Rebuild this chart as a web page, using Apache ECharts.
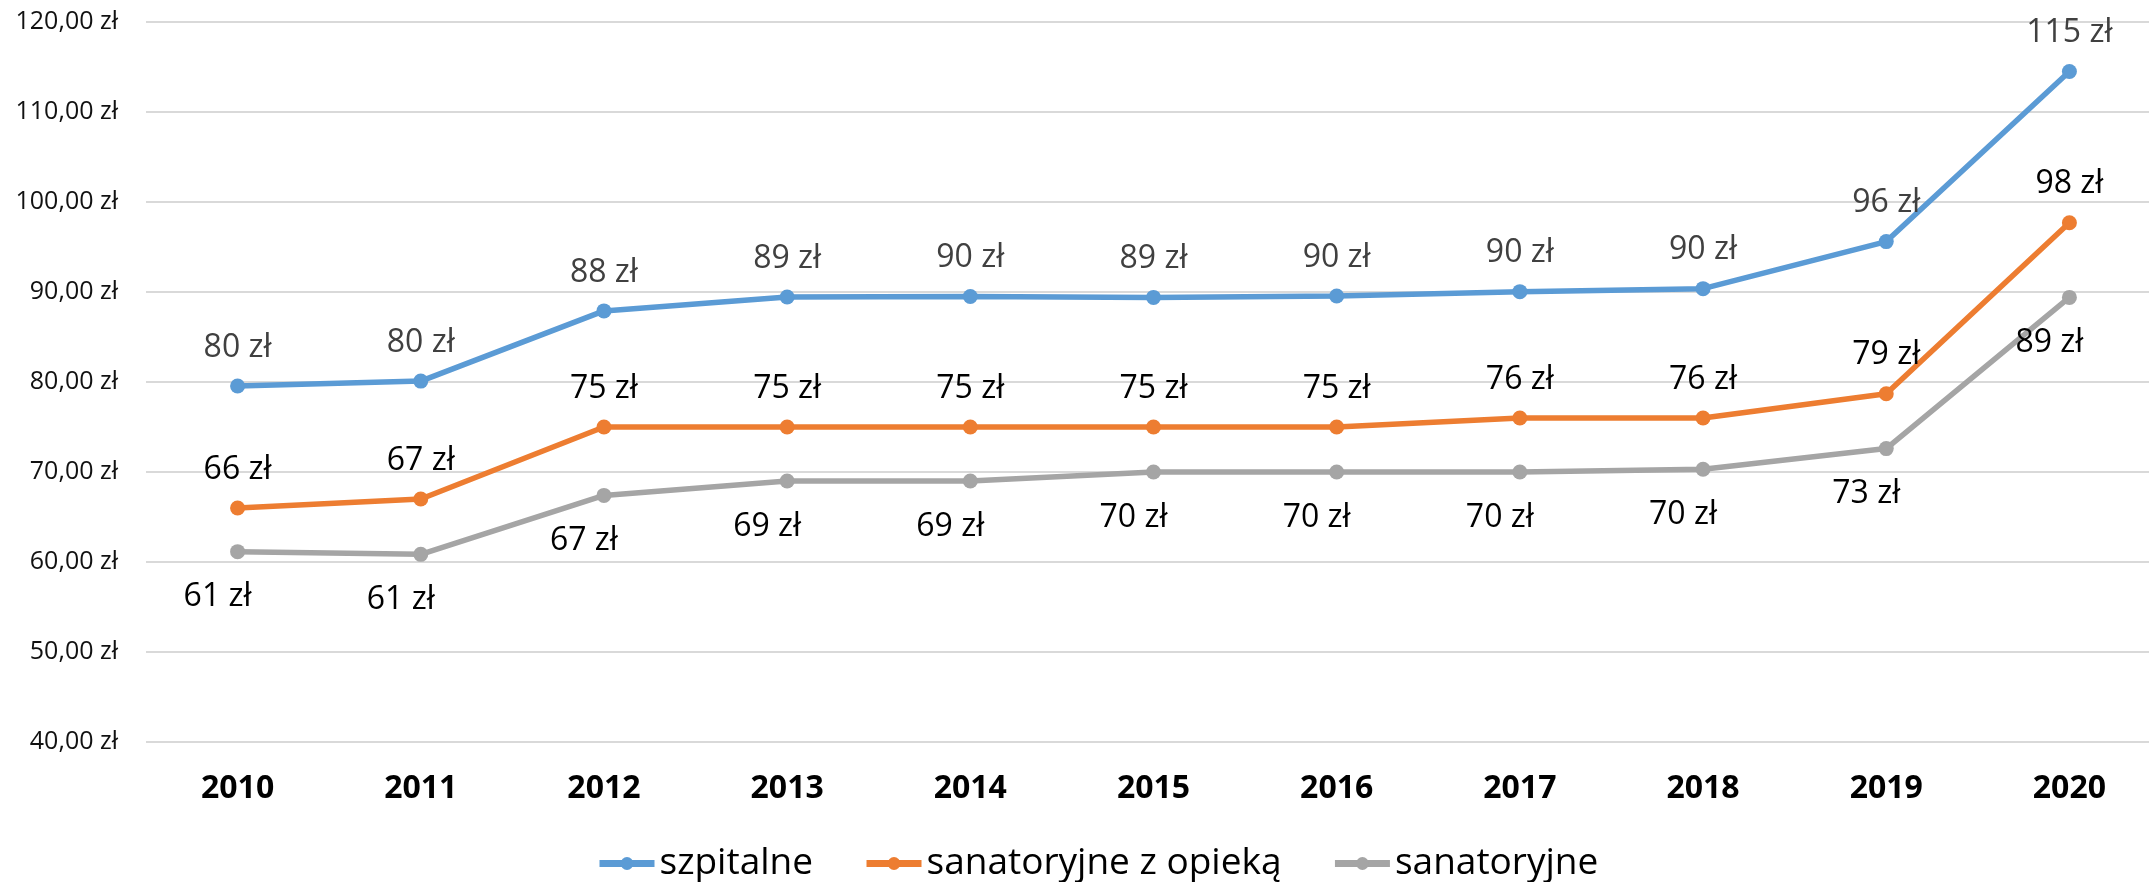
<!DOCTYPE html>
<html>
<head>
<meta charset="utf-8">
<title>Stawki</title>
<script src="https://cdn.jsdelivr.net/npm/echarts/dist/echarts.min.js"></script>
<style>
	html,body{margin:0;padding:0;background:#fff;}
	#chartContainer{width:2149px;height:882px;}
</style>
</head>
<body>
<div id="chartContainer"></div>
<script>
// dane
var years=['2010','2011','2012','2013','2014','2015','2016','2017','2018','2019','2020'];
var seriesNames=['szpitalne','sanatoryjne z opieką','sanatoryjne'];
var szpitalne=[79.56,80.1,87.9,89.45,89.5,89.4,89.55,90.04,90.37,95.6,114.5];
var sanatoryjneZOpieka=[66.0,67.0,75.0,75.0,75.0,75.0,75.0,76.0,76.0,78.7,97.7];
var sanatoryjne=[61.15,60.85,67.4,69.0,69.0,70.0,70.0,70.0,70.3,72.6,89.4];
var colors=['#5B9BD5','#ED7D31','#A5A5A5'];

var myChart;
var fontName='"Open Sans", "Noto Sans", sans-serif';

/**
 * jedna seria liniowa z etykietami
 */
function makeSeries(name,data,color,labelPos,labelColor,labelOffset,labelDist){
	return {
		name:name,
		type:'line',
		data:data,
		symbol:'circle',
		symbolSize:15,
		color:color,
		lineStyle:{width:5.5,color:color},
		itemStyle:{color:color},
		label:{
			show:true,
			position:labelPos,
			distance:labelDist,
			offset:labelOffset,
			color:labelColor,
			fontFamily:fontName,
			fontSize:32,
			formatter:function(p){return Math.round(p.value)+' zł';}
		},
		emphasis:{disabled:true}
	};
}

function showChart(){
	var dom=document.getElementById("chartContainer");
	myChart=echarts.init(dom,null,{renderer:'canvas'});
	var option={
		animation:false,
		backgroundColor:'#fff',
		textStyle:{fontFamily:fontName},
		grid:{
			left:146,
			top:22,
			width:2015,
			height:720,
			containLabel:false,
			outerBoundsMode:'none'
		},
		legend:{
			left:596,
			bottom:0,
			padding:0,
			itemGap:50,
			itemWidth:55,
			itemHeight:16,
			lineStyle:{width:7},
			textStyle:{fontFamily:fontName,fontSize:37,color:'#000'},
			data:seriesNames
		},
		xAxis:{
			type:'category',
			data:years,
			boundaryGap:true,
			axisLine:{show:false},
			axisTick:{show:false},
			axisLabel:{
				margin:31,
				color:'#000',
				fontFamily:fontName,
				fontSize:32,
				fontWeight:'bold'
			}
		},
		yAxis:{
			type:'value',
			min:40,
			max:120,
			interval:10,
			axisLine:{show:false},
			axisTick:{show:false},
			splitLine:{lineStyle:{color:'#D9D9D9',width:2}},
			axisLabel:{
				margin:28,
				color:'#111',
				fontFamily:fontName,
				fontSize:25,
				formatter:function(v){return v.toFixed(2).replace('.',',')+' zł';}
			}
		},
		series:[
			makeSeries(seriesNames[0],szpitalne,colors[0],'top','#404040',[0,0],15),
			makeSeries(seriesNames[1],sanatoryjneZOpieka,colors[1],'top','#000',[0,0],15),
			makeSeries(seriesNames[2],sanatoryjne,colors[2],'bottom','#000',[-20,0],22)
		]
	};
	myChart.setOption(option,true);
}

showChart();
window.addEventListener("resize",function(){myChart.resize();});
</script>
</body>
</html>
